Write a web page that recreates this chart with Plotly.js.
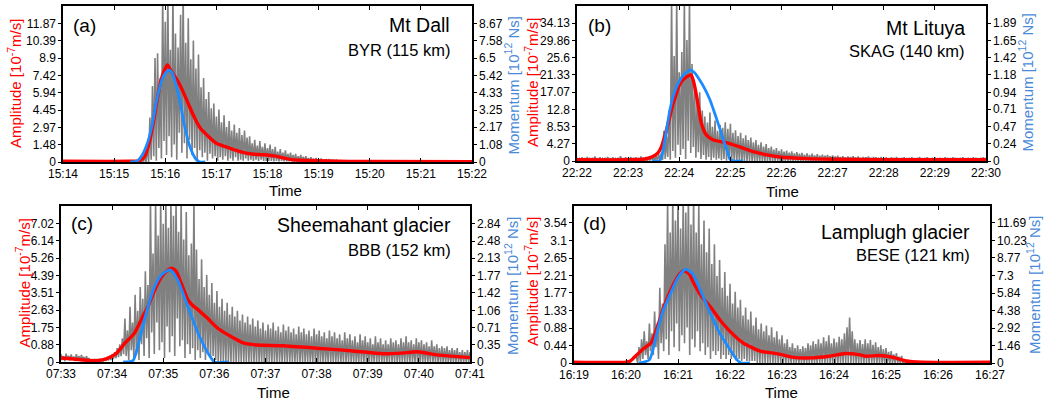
<!DOCTYPE html>
<html><head><meta charset="utf-8">
<script src="https://cdn.plot.ly/plotly-3.0.1.min.js"></script>
<style>html,body{margin:0;padding:0;background:#fff}#chart{width:1044px;height:404px}</style>
</head><body><div id="chart"></div>
<script>
// ---------- tick labels ----------
const timeTickSec = [0,60,120,180,240,300,360,420,480];
const A_timeLabels = ['15:14','15:15','15:16','15:17','15:18','15:19','15:20','15:21','15:22'];
const B_timeLabels = ['22:22','22:23','22:24','22:25','22:26','22:27','22:28','22:29','22:30'];
const C_timeLabels = ['07:33','07:34','07:35','07:36','07:37','07:38','07:39','07:40','07:41'];
const D_timeLabels = ['16:19','16:20','16:21','16:22','16:23','16:24','16:25','16:26','16:27'];

const A_ampTicks = [0,1.48,2.97,4.45,5.94,7.42,8.9,10.39,11.87];
const A_momTicks = [0,1.08,2.17,3.25,4.33,5.42,6.5,7.58,8.67];
const B_ampTicks = [0,4.27,8.53,12.8,17.07,21.33,25.6,29.86,34.13];
const B_momTicks = [0,0.24,0.47,0.71,0.94,1.18,1.42,1.65,1.89];
const C_ampTicks = [0,0.88,1.75,2.63,3.51,4.39,5.26,6.14,7.02];
const C_momTicks = [0,0.35,0.71,1.06,1.42,1.77,2.13,2.48,2.84];
const D_ampTicks = [0,0.44,0.88,1.33,1.77,2.21,2.65,3.1,3.54];
const D_momTicks = [0,1.46,2.92,4.38,5.84,7.3,8.77,10.23,11.69];
const ampMax = [13.354, 38.4, 7.9, 3.98];
const momMax = [9.754, 2.125, 3.2, 13.15];

// ---------- text ----------
const panelTags = ['(a)','(b)','(c)','(d)'];
const eventNames = ['Mt Dall','Mt Lituya','Sheemahant glacier','Lamplugh glacier'];
const stationNames = ['BYR (115 km)','SKAG (140 km)','BBB (152 km)','BESE (121 km)'];
const ampTitle = 'Amplitude [10<sup>-7</sup>m/s]';
const momTitle = 'Momentum [10<sup>12</sup> Ns]';
const timeTitle = 'Time';

// ---------- (a) Mt Dall ----------
const A_grayStart = 90, A_grayStep = 3;
const A_grayHi = [0.25,0.3,0.5,1.4,3.8, 6.5,8.9,9.3,7.2,14.5, 12.0,14.5,9.6,14.5,11.0, 9.8,12.6,14.5,10.2,12.3, 8.8,10.4,8.0,9.2,6.4, 7.2,5.4,6.0,4.6,5.0, 3.9,4.5,3.4,4.0,3.0, 3.5,2.7,3.2,2.5,2.9, 2.3,2.7,2.1,2.2,1.6, 1.9,1.4,1.8,1.3,1.6, 1.2,1.5,1.1,1.3,0.9, 1.1,0.8,1.0,0.7,0.8, 0.6,0.7,0.5,0.6,0.45, 0.5,0.35,0.4,0.3,0.35, 0.25,0.3,0.2,0.25,0.18, 0.2,0.15,0.15,0.12,0.1, 0.08];
const A_grayLo = [0,0,0,0,0.2, 0.5,0.1,1.2,0.3,1.8, 0.6,2.2,0.4,1.5,0.2, 2.5,0.8,1.6,0.3,1.9, 0.6,1.2,0.2,1.0,0.4, 0.8,0.1,0.7,0.3,0.5, 0.1,0.4,0.2,0.5,0.1, 0.3,0.1,0.4,0.1,0.2, 0.1,0.3,0.1,0.2,0.1, 0.2,0.1,0.2,0.1,0.1, 0.1,0.1,0.05,0.1,0.05, 0.1,0.05,0.05,0.05,0.05];
const A_redT = [0,78,90,96,102,107,111,115,120,122.5,126,130,136,141,147,153,161,169,180,196,210,222,235,248,258,268,285,310,360,480];
const A_redV = [0.06,0.06,0.1,0.5,1.9,3.8,5.5,7.0,8.0,8.3,7.9,7.45,6.75,6.0,5.0,4.0,2.9,2.3,1.6,1.17,0.85,0.68,0.62,0.52,0.35,0.2,0.13,0.08,0.04,0.03];
const A_blueT = [79,87,93,99,105,110,116,120,125,129,133,137,143,149,155,160,167];
const A_blueV = [0,0.07,0.44,1.17,2.41,3.87,5.11,5.55,5.75,5.48,4.75,3.87,2.19,0.95,0.26,0.01,0];

// ---------- (b) Mt Lituya ----------
const B_grayStart = 0, B_grayStep = 3;
const B_grayHi = [0.8,0.6,0.9,0.7,1.0, 0.6,0.8,1.1,0.7,0.9, 0.6,0.8,1.0,0.7,0.9, 0.6,0.8,1.2,0.7,0.9, 0.8,1.0,0.6,0.9,0.7, 1.1,0.8,1.0,0.9,1.2, 1.0,1.3,1.6,
  2.0,7.5,6.0,12.5,40, 26,40,22,27,40, 30,40,24,18.5,15, 17,12.5,11,9.5,12, 8.5,10,7.5,9,8.2, 9.6,8,9.2,7,7.6, 6.2,7,5.6,6.4,5.2, 5.8,4.6,5.2,4.0,4.6, 3.6,4.2,3.2,3.6,2.8, 3.2,2.5,2.9,2.3,2.6, 2.1,2.4,1.9,2.2,1.8, 2.0,1.6,1.9,1.5,1.8, 1.4,1.7,1.3,1.6,
  1.3,1.5,1.2,1.4,1.1, 1.3,1.0,1.2,0.9,1.1, 1.0,1.2,0.9,1.1,0.8, 1.0,0.9,1.1,0.8,1.0, 0.9,0.8,1.0,0.8,0.9, 0.7,0.9,0.8,1.0,0.7, 0.8,0.9,0.7,0.8,0.9, 0.7,0.8,1.0,0.7,0.8, 0.9,0.7,0.8,0.9,0.7, 0.8,0.7,0.9,0.8,0.7, 0.9,0.8,0.7,0.8,0.9, 0.7,0.8,0.7,0.9,0.8, 0.7,0.8,0.9,0.7];
const B_grayLo = [0.1,0,0.2,0,0.1, 0,0.2,0.1,0,0.1, 0,0.1,0.2,0,0.1, 0,0.1,0.2,0,0.1, 0.1,0,0.2,0.1,0, 0.1,0.2,0,0.1,0.2, 0,0.1,0.2,
  0.3,0.5,1.0,0.3,2.5, 0.8,4.0,1.5,3.0,0.5, 5.0,2.0,3.5,0.8,2.2, 0.5,1.5,0.3,1.0,0.2, 0.8,0.3,0.6,0.2,0.5, 0.1,0.4,0.1];
const B_redT = [0,60,80,89,95,99,105,113,121,129,134,137,140.5,146,152,160,176,191,207,223,238,270,300,360,420,480];
const B_redV = [0.3,0.3,0.5,1.1,2.0,3.5,7.7,14.3,19.2,20.9,21.3,19.5,15.9,9.3,6.4,5.2,4.5,3.5,2.3,1.5,1.0,0.6,0.45,0.35,0.3,0.3];
const B_blueT = [88,97,101,105,109,113,117,121,125,129,133,138,144,150,156,162,168,172,176,180,184,195];
const B_blueV = [0,0,0.15,0.42,0.70,0.89,1.02,1.11,1.18,1.22,1.25,1.21,1.11,0.99,0.84,0.64,0.43,0.28,0.15,0.02,0,0];

// ---------- (c) Sheemahant glacier ----------
const C_grayStart = 0, C_grayStep = 3;
const C_grayHi = [0.4,0.3,0.42,0.32,0.38, 0.28,0.4,0.3,0.36,0.26, 0.3,0.2,0.15,0.12,0.1, 0.12,0.15,0.2,0.25,0.3, 0.4,0.5,0.7,0.9,1.2,
  2.2,1.6,2.8,2.0,3.4, 2.6,3.8,3.2,4.6,3.9, 8.2,5.5,8.2,6.4,8.2, 7.0,8.2,6.8,8.2,7.4, 8.2,6.6,8.2,6.2,7.6, 5.4,6.0,8.2,5.7,4.2, 5.2,3.8,4.4,3.4,4.0,
  3.0,3.6,2.8,3.2,2.6, 3.0,2.4,2.8,2.3,2.6, 2.1,2.4,2.0,2.3,1.9, 2.2,1.8,2.1,1.7,2.0, 1.6,1.9,1.7,2.0,1.6, 1.8,1.5,1.9,1.6,1.8, 1.5,1.7,1.4,1.8,1.5, 1.7,1.4,1.6,1.3,1.7, 1.4,1.6,1.3,1.5,1.2, 1.6,1.3,1.5,1.2,1.4, 1.1,1.5,1.2,1.4,1.1, 1.3,1.0,1.4,1.1,1.3, 1.0,1.2,0.9,1.3,1.0, 1.2,0.9,1.1,0.9,1.2, 1.0,1.1,0.9,1.2,1.0, 1.3,1.0,1.1,0.9,1.2, 1.0,1.1,0.9,1.0,0.8, 1.1,0.8,0.9,0.7,0.8, 0.7,0.8,0.6,0.7,0.6, 0.7,0.5,0.6,0.5,0.6, 0.5];
const C_grayLo = [0.1,0.05,0.12,0.08,0.1, 0.05,0.1,0.08,0.12,0.06, 0.05,0.03,0.02,0.02,0.02, 0.02,0.03,0.05,0.08,0.1, 0.15,0.2,0.25,0.3,0.4,
  0.3,0.1,0.6,0.2,0.4, 0.1,0.9,0.3,1.2,0.2, 1.5,0.4,2.0,0.6,1.0, 0.2,1.8,0.5,1.3,0.3, 2.2,0.8,1.1,0.2,0.9, 0.4,0.7,0.1,0.6,0.2, 0.5,0.1,0.4,0.2,0.3, 0.1];
const C_redT = [0,15,35,50,58,65,75,86,96,102,110,118,124,130,135,141,149,155,161,172,184,200,215,230,260,300,340,378,400,418,441,465,480];
const C_redV = [0.2,0.15,0.07,0.12,0.25,0.44,0.95,1.45,2.3,2.8,3.65,4.32,4.6,4.75,4.6,4.0,3.14,2.85,2.64,2.21,1.71,1.28,0.95,0.86,0.82,0.7,0.57,0.42,0.45,0.52,0.36,0.27,0.22];
const C_blueT = [73,84.5,88,92,100,110,118,128,137,149,161,172.6,180,196];
const C_blueV = [0,0.03,0.18,0.45,1.0,1.55,1.79,1.89,1.68,1.13,0.59,0.18,0,0];

// ---------- (d) Lamplugh glacier ----------
const D_grayStart = 72, D_grayStep = 3;
const D_grayHi = [0.15,0.4,0.6,0.8,0.55, 1.0,0.75,1.3,1.0,1.9, 1.5,3.0,4.2,3.3,4.2, 3.6,4.2,3.4,4.2,3.8, 4.2,3.5,4.2,3.3,4.0, 3.0,3.6,2.8,3.4,2.5, 3.0,2.2,2.6,1.9,2.3, 1.7,2.0,1.5,1.8,1.4, 1.6,1.2,1.4,1.1,1.3, 0.95,1.15,0.85,1.0,0.8, 0.95,0.7,0.9,0.65,0.8, 0.6,0.7,0.5,0.6,0.4, 0.5,0.38,0.45,0.35,0.42, 0.38,0.5,0.45,0.55,0.48, 0.6,0.5,0.65,0.55,0.7, 0.5,0.62,0.52,0.66,0.6, 0.75,0.9,1.15,0.8,0.6, 0.5,0.58,0.48,0.6,0.5, 0.58,0.46,0.52,0.4,0.45, 0.35,0.38,0.28,0.3,0.22, 0.25,0.16,0.18,0.1,0.08, 0.06,0.05,0.04,0.04,0.03, 0.03];
const D_grayLo = [0,0.05,0.1,0.2,0.1, 0.3,0.2,0.4,0.1,0.5, 0.3,0.6,0.2,0.8,0.4, 1.0,0.3,0.7,0.5,0.9, 0.2,0.6,0.4,0.8,0.3, 0.5,0.2,0.4,0.1,0.3, 0.2,0.3,0.1,0.2,0.1, 0.2,0.1,0.15,0.05,0.1, 0.05,0.1,0.05,0.05,0.05, 0.05];
const D_redT = [0,60,65,69,79,89,96.5,104,114,122,127,133,137,147,156.6,168,180,195,215,230,242,251,274,294,313,329,337,352,367,383,402,480];
const D_redV = [0.02,0.02,0.05,0.13,0.34,0.51,0.93,1.44,1.95,2.25,2.33,2.25,2.07,1.69,1.44,1.1,0.8,0.51,0.3,0.25,0.2,0.15,0.13,0.17,0.24,0.21,0.17,0.19,0.15,0.05,0.02,0.02];
const D_blueT = [75,87,94.6,102,110,120,129,137,147,157,168,180,188,193,203];
const D_blueV = [0,0.26,2.25,4.2,5.58,7.14,7.83,7.43,5.88,4.2,2.51,1.12,0.26,0,0];

// ---------- assembly ----------
const series = [
  {gs:A_grayStart, gstep:A_grayStep, hi:A_grayHi, lo:A_grayLo, rt:A_redT, rv:A_redV, bt:A_blueT, bv:A_blueV, tl:A_timeLabels, at:A_ampTicks, mt:A_momTicks},
  {gs:B_grayStart, gstep:B_grayStep, hi:B_grayHi, lo:B_grayLo, rt:B_redT, rv:B_redV, bt:B_blueT, bv:B_blueV, tl:B_timeLabels, at:B_ampTicks, mt:B_momTicks},
  {gs:C_grayStart, gstep:C_grayStep, hi:C_grayHi, lo:C_grayLo, rt:C_redT, rv:C_redV, bt:C_blueT, bv:C_blueV, tl:C_timeLabels, at:C_ampTicks, mt:C_momTicks},
  {gs:D_grayStart, gstep:D_grayStep, hi:D_grayHi, lo:D_grayLo, rt:D_redT, rv:D_redV, bt:D_blueT, bv:D_blueV, tl:D_timeLabels, at:D_ampTicks, mt:D_momTicks}
];

// pixel geometry of each panel (layout only)
const W = 1044, H = 404;
const geo = [
  {x0:63, x1:472, y0:6, y1:162, tagX:71, tagY:25, nameX:452, nameY:25, stX:452, stY:49.5, ampX:15, ampY:84, momX:512.5, momY:86, timeX:285, timeY:190},
  {x0:577, x1:986, y0:6, y1:161, tagX:586, tagY:25, nameX:967, nameY:28, stX:967, stY:50.5, ampX:532, ampY:83, momX:1026.5, momY:83, timeX:782, timeY:191},
  {x0:61, x1:470, y0:206, y1:362, tagX:69, tagY:223, nameX:453, nameY:225, stX:453, stY:249.5, ampX:22.5, ampY:283, momX:511, momY:286, timeX:273, timeY:392},
  {x0:574, x1:990, y0:205.5, y1:363, tagX:581, tagY:223, nameX:972, nameY:232, stX:972, stY:254.5, ampX:531, ampY:282, momX:1033, momY:285, timeX:781, timeY:392}
];
const px = v => v / W, py = v => 1 - v / H;

const FONT = 'Liberation Sans, Arial, Helvetica, sans-serif';
const RED = '#ff0000', BLUE = '#1a8cff', GRAY = '#808080', BLUE_TXT = '#4a8ad8';

const traces = [];
const layout = {
  width: W, height: H, margin: {l:0, r:0, t:0, b:0},
  paper_bgcolor: '#fff', plot_bgcolor: 'rgba(0,0,0,0)',
  showlegend: false, hovermode: false,
  font: {family: FONT, size: 12, color: '#000'},
  annotations: []
};

series.forEach((s, p) => {
  const g = geo[p];
  const xid = p === 0 ? 'x' : 'x' + (p + 1);
  const yl = p === 0 ? 'y' : 'y' + (2 * p + 1);
  const yr = 'y' + (2 * p + 2);
  const xkey = p === 0 ? 'xaxis' : 'xaxis' + (p + 1);
  const ylkey = p === 0 ? 'yaxis' : 'yaxis' + (2 * p + 1);
  const yrkey = 'yaxis' + (2 * p + 2);

  // gray seismogram: alternate listed peaks and troughs
  const gx = [], gy = [];
  for (let i = 0; i < s.hi.length; i++) {
    const t = s.gs + i * s.gstep;
    gx.push(t); gy.push(s.hi[i]);
    gx.push(t + s.gstep / 2); gy.push(s.lo[i] || 0);
  }
  traces.push({x: gx, y: gy, xaxis: xid, yaxis: yl, type: 'scatter', mode: 'lines',
    line: {color: GRAY, width: 1.6}});
  traces.push({x: s.rt, y: s.rv, xaxis: xid, yaxis: yl, type: 'scatter', mode: 'lines',
    line: {color: RED, width: 3.4, shape: 'spline', smoothing: 0.6}});
  traces.push({x: s.bt, y: s.bv, xaxis: xid, yaxis: yr, type: 'scatter', mode: 'lines',
    line: {color: BLUE, width: 2.8, shape: 'spline', smoothing: 0.6}});

  const xdom = [px(g.x0), px(g.x1)];
  const ydom = [py(g.y1), py(g.y0)];
  layout[xkey] = {domain: xdom, anchor: yl, range: [0, 480], tickvals: timeTickSec, ticktext: s.tl,
    ticks: 'inside', ticklen: 4, tickwidth: 1, tickcolor: '#000', mirror: 'ticks', showline: true,
    linewidth: 1.6, linecolor: '#000', showgrid: false, zeroline: false, tickfont: {size: 12, family: FONT},
    fixedrange: true};
  layout[ylkey] = {domain: ydom, anchor: xid, range: [0, ampMax[p]], tickvals: s.at, ticktext: s.at.map(String),
    ticks: 'outside', ticklen: 3, tickwidth: 1, tickcolor: '#000', showline: true, linewidth: 1.6, linecolor: '#000',
    showgrid: false, zeroline: false, tickfont: {size: 12, family: FONT}, fixedrange: true};
  layout[yrkey] = {domain: ydom, anchor: xid, overlaying: yl, side: 'right', range: [0, momMax[p]],
    tickvals: s.mt, ticktext: s.mt.map(String), ticks: 'outside', ticklen: 3, tickwidth: 1, tickcolor: '#000',
    showline: true, linewidth: 1.6, linecolor: '#000', showgrid: false, zeroline: false,
    tickfont: {size: 12, family: FONT}, fixedrange: true};

  const A = layout.annotations;
  A.push({xref:'paper', yref:'paper', x: px(g.tagX), y: py(g.tagY), xanchor:'left', yanchor:'middle',
    text: panelTags[p], showarrow:false, font:{size:19, family:FONT, color:'#000'}});
  A.push({xref:'paper', yref:'paper', x: px(g.nameX), y: py(g.nameY), xanchor:'right', yanchor:'middle',
    text: eventNames[p], showarrow:false, font:{size:19.5, family:FONT, color:'#000'}});
  A.push({xref:'paper', yref:'paper', x: px(g.stX), y: py(g.stY), xanchor:'right', yanchor:'middle',
    text: stationNames[p], showarrow:false, font:{size:16.5, family:FONT, color:'#000'}});
  A.push({xref:'paper', yref:'paper', x: px(g.ampX), y: py(g.ampY), xanchor:'center', yanchor:'middle',
    text: ampTitle, textangle: -90, showarrow:false, font:{size:15, family:FONT, color:RED}});
  A.push({xref:'paper', yref:'paper', x: px(g.momX), y: py(g.momY), xanchor:'center', yanchor:'middle',
    text: momTitle, textangle: -90, showarrow:false, font:{size:15, family:FONT, color:BLUE_TXT}});
  A.push({xref:'paper', yref:'paper', x: px(g.timeX), y: py(g.timeY), xanchor:'center', yanchor:'middle',
    text: timeTitle, showarrow:false, font:{size:15, family:FONT, color:'#000'}});
});

Plotly.newPlot('chart', traces, layout, {staticPlot: true, displayModeBar: false});
</script>
</body></html>
